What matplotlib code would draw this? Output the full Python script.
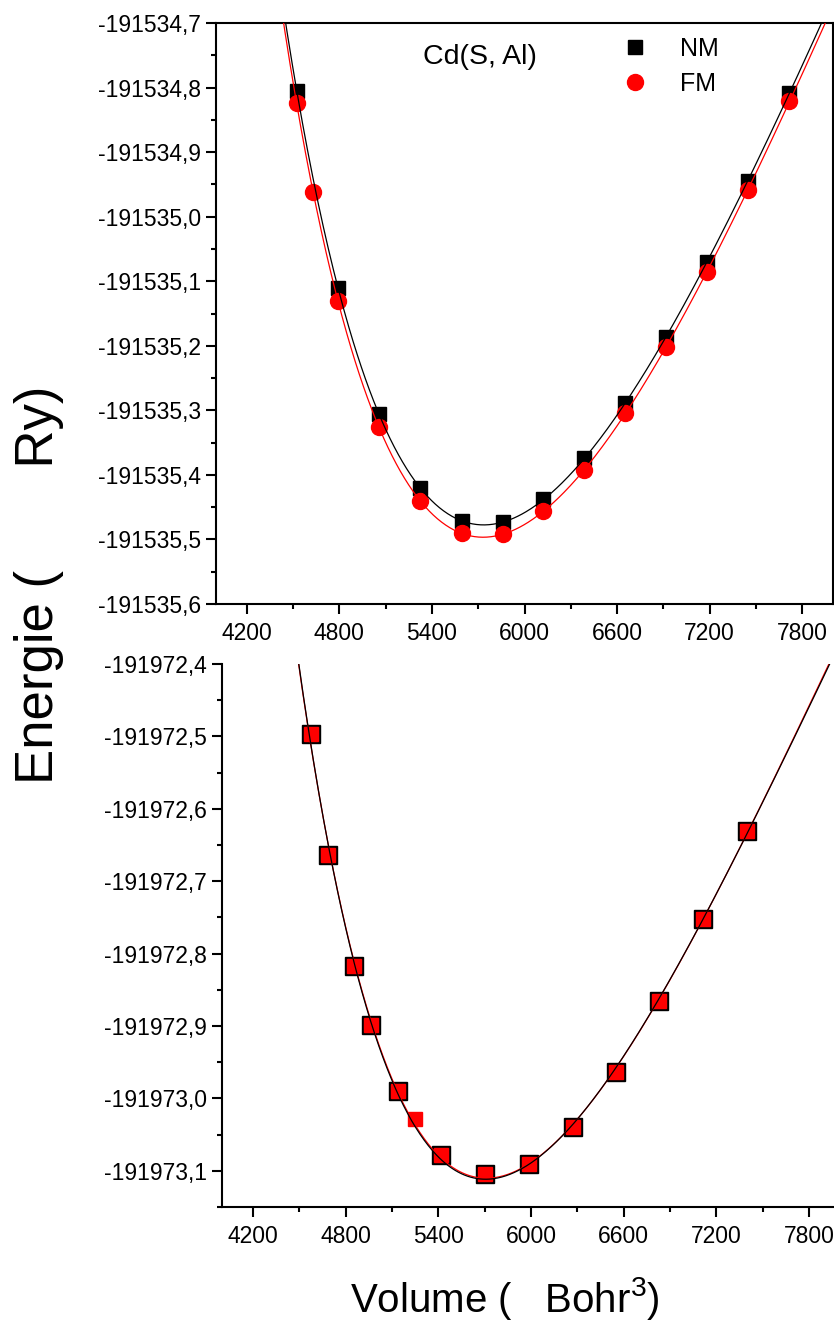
import numpy as np
import matplotlib
matplotlib.use("Agg")
import matplotlib.pyplot as plt
from matplotlib.ticker import FixedLocator, FuncFormatter, MultipleLocator
from matplotlib.lines import Line2D

plt.rcParams['font.family'] = ['Liberation Sans', 'DejaVu Sans']
plt.rcParams['mathtext.fontset'] = 'custom'
plt.rcParams['mathtext.rm'] = 'Liberation Sans'
plt.rcParams['mathtext.it'] = 'Liberation Sans:italic'

# ---- Cd(S, Al): energy vs volume, non-magnetic (NM) and ferromagnetic (FM)
top_nm_v = [4524, 4790, 5055, 5325, 5592, 5858, 6123, 6388, 6654, 6919, 7184, 7450, 7715]
top_nm_e = [-191534.805, -191535.110, -191535.306, -191535.420, -191535.471,
            -191535.473, -191535.437, -191535.374, -191535.289, -191535.186,
            -191535.070, -191534.945, -191534.808]
top_fm_v = [4524, 4628, 4790, 5055, 5325, 5592, 5858, 6123, 6388, 6654, 6919,
            7184, 7450, 7715]
top_fm_e = [-191534.824, -191534.962, -191535.131, -191535.326, -191535.440,
            -191535.490, -191535.491, -191535.456, -191535.392, -191535.304,
            -191535.202, -191535.086, -191534.959, -191534.821]

# ---- second compound
bot_nm_v = [4576, 4686, 4854, 4964, 5139, 5417, 5702, 5987, 6272, 6550, 6828, 7113, 7398]
bot_nm_e = [-191972.497, -191972.664, -191972.817, -191972.899, -191972.990,
            -191973.078, -191973.105, -191973.090, -191973.039, -191972.963,
            -191972.865, -191972.752, -191972.631]
bot_fm_v = [4576, 4686, 4854, 4964, 5139, 5249, 5417, 5702, 5987, 6272, 6550,
            6828, 7113, 7398]
bot_fm_e = [-191972.497, -191972.664, -191972.817, -191972.899, -191972.990,
            -191973.028, -191973.078, -191973.105, -191973.090, -191973.039,
            -191972.963, -191972.865, -191972.752, -191972.631]

x_ticks = [4200, 4800, 5400, 6000, 6600, 7200, 7800]
top_yticks = [-191534.7, -191534.8, -191534.9, -191535.0, -191535.1,
              -191535.2, -191535.3, -191535.4, -191535.5, -191535.6]
bot_yticks = [-191972.4, -191972.5, -191972.6, -191972.7, -191972.8,
              -191972.9, -191973.0, -191973.1]

W, H = 834, 1324
fig = plt.figure(figsize=(W / 100, H / 100), dpi=100)


def px_axes(left, top, right, bottom):
    return fig.add_axes([left / W, 1 - bottom / H, (right - left) / W, (bottom - top) / H])


ax1 = px_axes(216, 23, 833, 604)
ax2 = px_axes(222, 664, 840, 1207)
ax2.patch.set_visible(False)
ax2.spines['top'].set_visible(False)


def bm_fit(v, e, grid):
    # Birch-Murnaghan form: cubic polynomial in V^(-2/3)
    v = np.asarray(v, float)
    e = np.asarray(e, float)
    e0 = e.mean()
    c = np.polyfit(v ** (-2.0 / 3.0), e - e0, 3)
    return np.polyval(c, grid ** (-2.0 / 3.0)) + e0


grid = np.linspace(4000, 8000, 600)
comma = FuncFormatter(lambda val, pos: f"{val:.1f}".replace('.', ','))

# top panel
ax1.plot(top_nm_v, top_nm_e, ls='none', marker='s', ms=10.5, mfc='black', mec='black', zorder=3)
ax1.plot(top_fm_v, top_fm_e, ls='none', marker='o', ms=11.5, mfc='red', mec='red', zorder=4)
ax1.plot(grid, bm_fit(top_fm_v, top_fm_e, grid), color='red', lw=0.9, zorder=5)
ax1.plot(grid, bm_fit(top_nm_v, top_nm_e, grid), color='black', lw=0.9, zorder=6)
ax1.set_ylim(-191535.6, -191534.7)
ax1.yaxis.set_major_locator(FixedLocator(top_yticks))
ax1.yaxis.set_minor_locator(FixedLocator([t - 0.05 for t in top_yticks[:-1]]))
ax1.text(0.428, 0.929, 'Cd(S, Al)', transform=ax1.transAxes, ha='center',
         va='baseline', fontsize=20.5)
handles = [Line2D([], [], ls='none', marker='s', ms=10.5, color='black'),
           Line2D([], [], ls='none', marker='o', ms=11.5, color='red')]
ax1.legend(handles, ['NM', 'FM'], loc='upper left', bbox_to_anchor=(0.636, 1.0),
           frameon=False, fontsize=18, handlelength=1.0, handletextpad=1.3,
           labelspacing=0.45, borderpad=0.05)

# bottom panel
ax2.plot(bot_nm_v, bot_nm_e, ls='none', marker='s', ms=13, mfc='black', mec='black', zorder=3)
ax2.plot(bot_fm_v, bot_fm_e, ls='none', marker='s', ms=10.5, mfc='red', mec='red', zorder=4)
ax2.plot(grid, bm_fit(bot_fm_v, bot_fm_e, grid), color='red', lw=0.9, zorder=5)
ax2.plot(grid, bm_fit(bot_nm_v, bot_nm_e, grid), color='black', lw=0.9, zorder=6)
ax2.set_ylim(-191973.15, -191972.4)
ax2.yaxis.set_major_locator(FixedLocator(bot_yticks))
ax2.yaxis.set_minor_locator(FixedLocator([t - 0.05 for t in bot_yticks]))

for ax in (ax1, ax2):
    ax.set_xlim(4000, 8000)
    ax.xaxis.set_major_locator(FixedLocator(x_ticks))
    ax.xaxis.set_minor_locator(MultipleLocator(300))
    ax.yaxis.set_major_formatter(comma)
    for s in ax.spines.values():
        s.set_linewidth(1.5)
    ax.tick_params(which='major', direction='out', length=7, width=1.5, labelsize=16.5)
    ax.tick_params(which='minor', direction='out', length=3.8, width=1.5)
    ax.tick_params(axis='x', which='major', pad=6)
    ax.tick_params(axis='y', which='major', pad=4)

fig.text(0.0465, 1 - 585 / H, 'Energie (       Ry)', rotation=90, ha='center',
         va='center', fontsize=38)
fig.text(0.605, 1 - 1312 / H, 'Volume (   Bohr$^3$)', ha='center', va='baseline', fontsize=29)

fig.savefig('out.png', dpi=100)
